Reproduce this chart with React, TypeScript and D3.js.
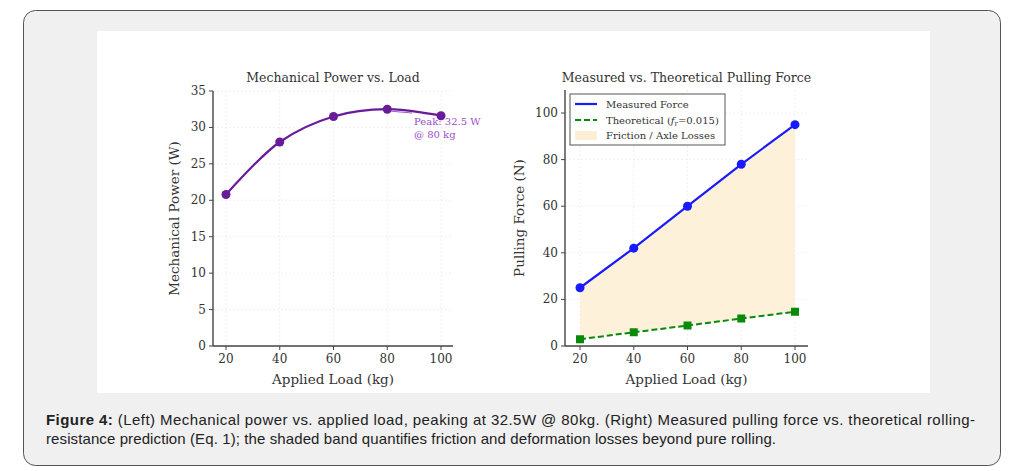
import React from "react";
import * as d3 from "d3";

const loads = [20, 40, 60, 80, 100];
const power = [20.8, 28.0, 31.5, 32.5, 31.6];
const measured = [25, 42, 60, 78, 95];
const theoretical = [2.9, 5.9, 8.8, 11.8, 14.7];
const xTicks = [20, 40, 60, 80, 100];
const powerTicks = [0, 5, 10, 15, 20, 25, 30, 35];
const forceTicks = [0, 20, 40, 60, 80, 100];

const SERIF = "'DejaVu Serif', serif";
const TICK = "#333";

function Axes({ x, y, xt, yt, left, bottom, right, top, title, xl, yl, ylx }: any) {
  return (
    <g fontFamily={SERIF}>
      {xt.map((t: number) => (
        <line key={"gx" + t} x1={x(t)} x2={x(t)} y1={top} y2={bottom} stroke="#e6e6e6" strokeWidth={0.6} strokeDasharray="2,2" />
      ))}
      {yt.map((t: number) => (
        <line key={"gy" + t} x1={left} x2={right} y1={y(t)} y2={y(t)} stroke="#e6e6e6" strokeWidth={0.6} strokeDasharray="2,2" />
      ))}
      <line x1={left} x2={left} y1={top} y2={bottom} stroke="#444" strokeWidth={1.4} />
      <line x1={left} x2={right} y1={bottom} y2={bottom} stroke="#444" strokeWidth={1.4} />
      {xt.map((t: number) => (
        <g key={"tx" + t}>
          <line x1={x(t)} x2={x(t)} y1={bottom} y2={bottom + 4} stroke="#444" />
          <text x={x(t)} y={bottom + 17} textAnchor="middle" fontSize={12} fill={TICK}>{t}</text>
        </g>
      ))}
      {yt.map((t: number) => (
        <g key={"ty" + t}>
          <line x1={left - 4} x2={left} y1={y(t)} y2={y(t)} stroke="#444" />
          <text x={left - 7} y={y(t) + 4} textAnchor="end" fontSize={12} fill={TICK}>{t}</text>
        </g>
      ))}
      <text x={(left + right) / 2} y={82} textAnchor="middle" fontSize={12.5} fill="#333">{title}</text>
      <text x={(left + right) / 2} y={bottom + 38} textAnchor="middle" fontSize={13.5} fill="#333">{xl}</text>
      <text transform={`translate(${ylx},${(top + bottom) / 2}) rotate(-90)`} textAnchor="middle" fontSize={13.5} fill="#333">{yl}</text>
    </g>
  );
}

export default function App() {
  const bottom = 346;
  const xL = d3.scaleLinear().domain([20, 100]).range([226, 441]);
  const yL = d3.scaleLinear().domain([0, 35]).range([bottom, 91]);
  const pLine = d3.line<number>().x((_, i) => xL(loads[i])).y((d) => yL(d)).curve(d3.curveCatmullRom.alpha(0.5));
  const xR = d3.scaleLinear().domain([20, 100]).range([580, 795]);
  const yR = d3.scaleLinear().domain([0, 100]).range([bottom, 113]);
  const mLine = d3.line<number>().x((_, i) => xR(loads[i])).y((d) => yR(d));
  const tLine = d3.line<number>().x((_, i) => xR(loads[i])).y((d) => yR(d));
  const band = d3.area<number>().x((_, i) => xR(loads[i])).y0((_, i) => yR(theoretical[i])).y1((d) => yR(d));
  const purple = "#6a1b9a";
  return (
    <svg width={1008} height={463} style={{ display: "block" }}>
      <g transform="translate(-8,-8)">
        <rect x={23.5} y={10.5} width={977} height={455} rx={12} fill="#f0f0f0" stroke="#555" strokeWidth={1} />
        <rect x={97} y={31} width={833} height={362} fill="#fff" />
        <Axes x={xL} y={yL} xt={xTicks} yt={powerTicks} left={213} right={453} top={91} bottom={bottom}
          title="Mechanical Power vs. Load" xl="Applied Load (kg)" yl="Mechanical Power (W)" ylx={179} />
        <path d={pLine(power) || ""} fill="none" stroke={purple} strokeWidth={2.2} />
        {power.map((v, i) => <circle key={i} cx={xL(loads[i])} cy={yL(v)} r={4.5} fill={purple} />)}
        <line x1={xL(80) + 4} y1={yL(32.5) + 2} x2={412} y2={113} stroke="#9c5cc4" strokeWidth={1} />
        <text fontFamily={SERIF} fontSize={10} fill="#9c4dcc">
          <tspan x={414} y={125}>Peak: 32.5 W</tspan>
          <tspan x={414} y={138}>@ 80 kg</tspan>
        </text>

        <Axes x={xR} y={yR} xt={xTicks} yt={forceTicks} left={565} right={808} top={90} bottom={bottom}
          title="Measured vs. Theoretical Pulling Force" xl="Applied Load (kg)" yl="Pulling Force (N)" ylx={524} />
        <path d={band(measured) || ""} fill="#fdefd6" opacity={0.9} />
        <path d={mLine(measured) || ""} fill="none" stroke="#1a1aff" strokeWidth={2.2} />
        {measured.map((v, i) => <circle key={i} cx={xR(loads[i])} cy={yR(v)} r={4.5} fill="#1a1aff" />)}
        <path d={tLine(theoretical) || ""} fill="none" stroke="#0a8a0a" strokeWidth={2} strokeDasharray="6,3" />
        {theoretical.map((v, i) => <rect key={i} x={xR(loads[i]) - 4} y={yR(v) - 4} width={8} height={8} fill="#0a8a0a" />)}
        <g fontFamily={SERIF} fontSize={10} fill="#333">
          <rect x={570} y={94} width={155} height={51} fill="#fff" fillOpacity={0.85} stroke="#555" strokeWidth={1} />
          <line x1={575} x2={597} y1={104} y2={104} stroke="#1a1aff" strokeWidth={2.2} />
          <text x={606} y={108}>Measured Force</text>
          <line x1={575} x2={597} y1={120} y2={120} stroke="#0a8a0a" strokeWidth={2} strokeDasharray="6,3" />
          <text x={606} y={124}>Theoretical (<tspan fontStyle="italic">f</tspan><tspan fontSize={7} dy={2}>r</tspan><tspan dy={-2}>=0.015)</tspan></text>
          <rect x={575} y={131} width={22} height={9} fill="#fdefd6" />
          <text x={606} y={139}>Friction / Axle Losses</text>
        </g>

        <g fontFamily="'Liberation Sans', Arial, sans-serif" fontSize={15} fill="#222">
          <text x={46} y={425} textLength={929} lengthAdjust="spacing"><tspan fontWeight="bold">Figure 4:</tspan> (Left) Mechanical power vs. applied load, peaking at 32.5W @ 80kg. (Right) Measured pulling force vs. theoretical rolling-</text>
          <text x={46} y={444} textLength={730} lengthAdjust="spacing">resistance prediction (Eq. 1); the shaded band quantifies friction and deformation losses beyond pure rolling.</text>
        </g>
      </g>
    </svg>
  );
}
